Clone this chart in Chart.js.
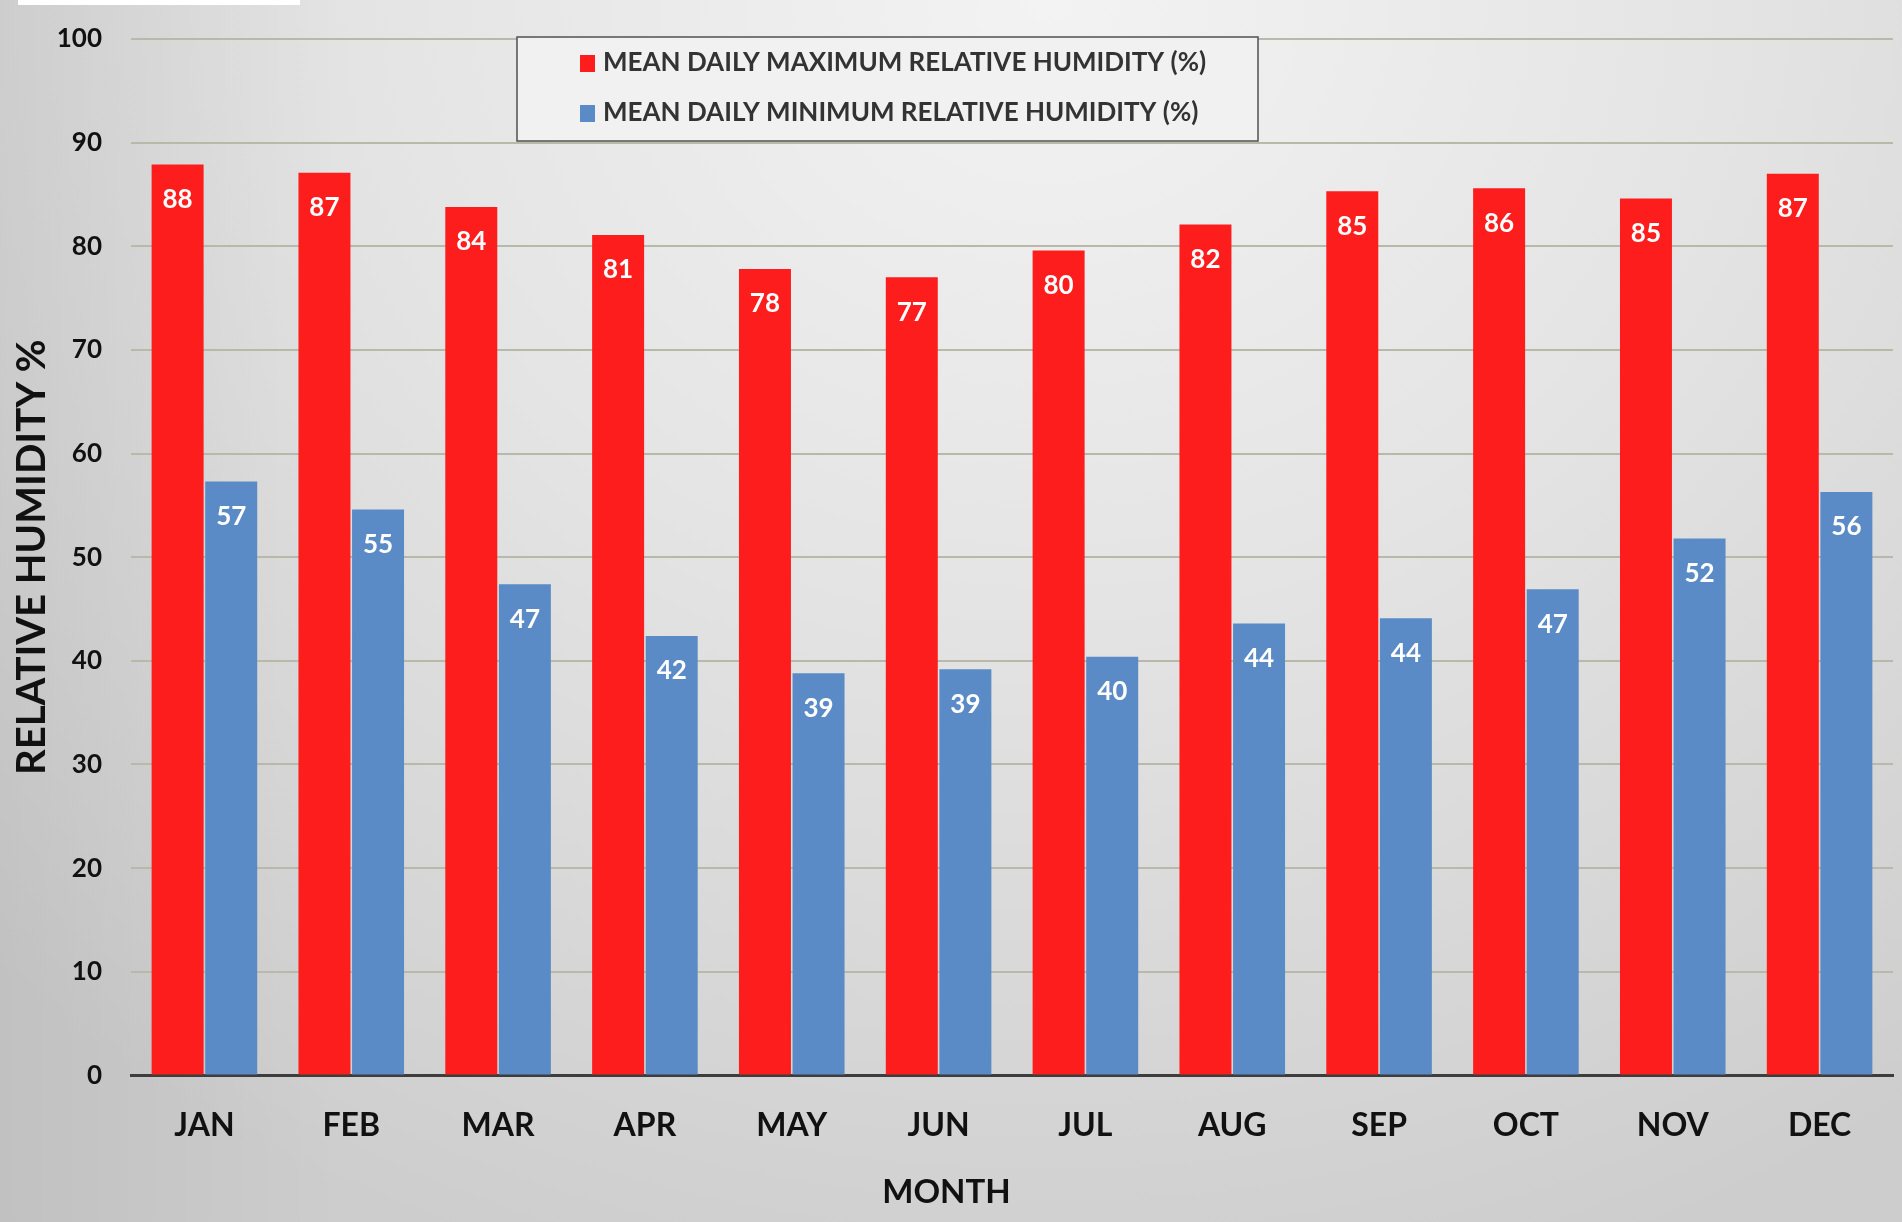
<!DOCTYPE html>
<html>
<head>
<meta charset="utf-8">
<script src="https://cdn.jsdelivr.net/npm/chart.js@4.4.1/dist/chart.umd.min.js"></script>
<style>
  html, body { margin: 0; padding: 0; }
  body {
    width: 1902px; height: 1222px; overflow: hidden; position: relative;
    background:
      linear-gradient(to right, rgba(0,0,0,0.06) 0%, rgba(0,0,0,0) 18%),
      radial-gradient(ellipse 80% 110% at 55% 0%, #f3f3f3 0%, #e4e4e4 45%, #cdcdcd 100%);
  }
  #wrap { position: absolute; left: 0; top: 0; width: 1902px; height: 1222px; }
  #corner { position: absolute; left: 18px; top: 0; width: 282px; height: 5px; background: #fff; }
</style>
</head>
<body>
<div id="corner"></div>
<div id="wrap"><canvas id="chart"></canvas></div>
<script>
// Données
const months = ['JAN','FEB','MAR','APR','MAY','JUN','JUL','AUG','SEP','OCT','NOV','DEC'];
const maxHumidity = [87.9, 87.1, 83.8, 81.1, 77.8, 77.0, 79.6, 82.1, 85.3, 85.6, 84.6, 87.0];
const minHumidity = [57.3, 54.6, 47.4, 42.4, 38.8, 39.2, 40.4, 43.6, 44.1, 46.9, 51.8, 56.3];
const seriesLabels = ['MEAN DAILY MAXIMUM RELATIVE HUMIDITY (%)', 'MEAN DAILY MINIMUM RELATIVE HUMIDITY (%)'];

const FONT = 'Lato, "Open Sans", "Liberation Sans", sans-serif';
const palette = { red: '#fd1d1d', blue: '#5b8bc6', grid: '#b9b9aa', axis: '#3d3d3d' };

// Valeurs en blanc en haut des barres
const valueLabels = {
  id: 'valueLabels',
  afterDatasetsDraw(chart) {
    const ctx = chart.ctx;
    ctx.save();
    ctx.fillStyle = '#ffffff';
    ctx.font = 'bold 26px ' + FONT;
    ctx.textAlign = 'center';
    ctx.textBaseline = 'middle';
    chart.data.datasets.forEach((ds, i) => {
      chart.getDatasetMeta(i).data.forEach((bar, j) => {
        ctx.fillText(String(Math.round(ds.data[j])), bar.x, bar.y + 35);
      });
    });
    ctx.restore();
  }
};

// Légende encadrée dans la zone du graphique
const boxLegend = {
  id: 'boxLegend',
  afterDatasetsDraw(chart, args, opts) {
    const ctx = chart.ctx;
    const { left, top, width, height } = opts;
    ctx.save();
    ctx.fillStyle = '#f1f1f1';
    ctx.fillRect(left, top, width, height);
    ctx.strokeStyle = '#505050';
    ctx.lineWidth = 1.5;
    ctx.strokeRect(left, top, width, height);
    ctx.font = 'bold 26px ' + FONT;
    ctx.textBaseline = 'middle';
    ctx.textAlign = 'left';
    chart.data.datasets.forEach((ds, i) => {
      const y = top + 26 + i * 50;
      ctx.fillStyle = ds.backgroundColor;
      ctx.fillRect(left + 63, y - 8, 15, 17);
      ctx.fillStyle = '#333333';
      ctx.fillText(ds.label, left + 86, y);
    });
    ctx.restore();
  }
};

new Chart(document.getElementById('chart').getContext('2d'), {
  type: 'bar',
  data: {
    labels: months,
    datasets: [
      { label: seriesLabels[0], data: maxHumidity, backgroundColor: palette.red },
      { label: seriesLabels[1], data: minHumidity, backgroundColor: palette.blue }
    ]
  },
  options: {
    responsive: true,
    maintainAspectRatio: false,
    animation: false,
    datasets: { bar: { categoryPercentage: 0.73, barPercentage: 0.97 } },
    layout: { padding: { top: 39, right: 9, left: 0, bottom: 0 } },
    scales: {
      x: {
        grid: { display: false, drawTicks: false },
        border: { display: true, color: palette.axis, width: 3 },
        ticks: { color: '#111', font: { family: FONT, size: 32, weight: 'bold' }, padding: 31 },
        afterFit: s => { s.height = 97; }
      },
      y: {
        min: 0, max: 100,
        grid: { color: palette.grid, lineWidth: 2, drawTicks: true, tickLength: 19, tickColor: 'rgba(0,0,0,0)' },
        border: { display: false },
        ticks: { stepSize: 10, color: '#111', font: { family: FONT, size: 26, weight: 'bold' }, padding: 10 },
        title: {
          display: true, text: 'RELATIVE HUMIDITY %', color: '#111',
          font: { family: FONT, size: 40, weight: 'bold' }, padding: { top: 8, bottom: 0 }
        },
        afterFit: s => { s.width = 131; }
      }
    },
    plugins: {
      legend: { display: false },
      tooltip: { enabled: false },
      title: {
        display: true, position: 'bottom', text: 'MONTH', color: '#111',
        font: { family: FONT, size: 33, weight: 'bold', lineHeight: 1.2 },
        padding: { top: 0, bottom: 10 }
      },
      boxLegend: { left: 517, top: 37, width: 741, height: 104 }
    }
  },
  plugins: [valueLabels, boxLegend]
});
</script>
</body>
</html>
